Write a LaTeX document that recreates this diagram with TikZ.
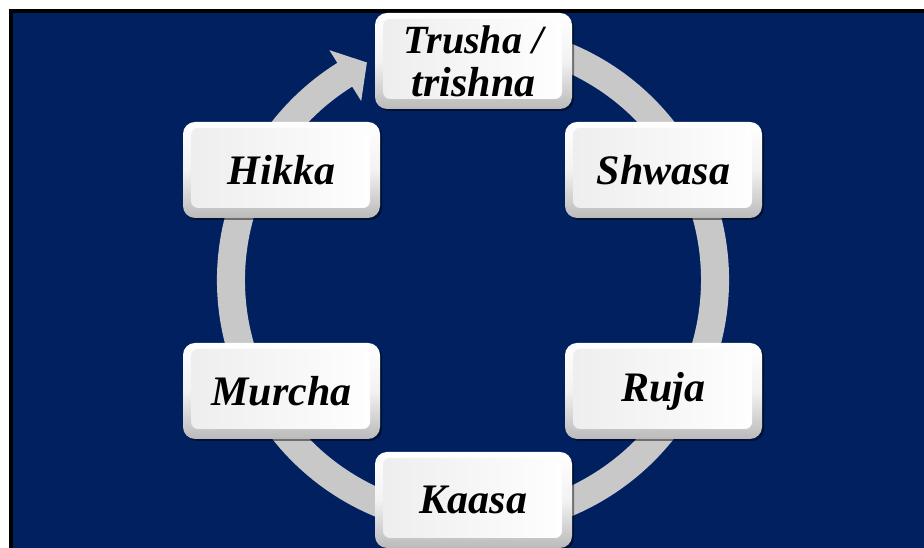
\documentclass[tikz,border=0pt]{standalone}
\usepackage{fontspec}
\setmainfont{Liberation Serif}
\usetikzlibrary{shadows,calc}
\definecolor{navy}{RGB}{0,32,96}
\definecolor{ringgray}{RGB}{200,200,200}
\tikzset{
  bevelbox/.style={rounded corners=12pt, minimum width=197pt, minimum height=96pt,
    inner sep=0pt, align=center, text=black,
    font=\fontsize{42}{43}\selectfont\bfseries\itshape,
    top color=white, bottom color=black!27, middle color=black!5,
    drop shadow={shadow xshift=2pt, shadow yshift=-2pt, opacity=0.45, fill=black},
    path picture={\shade[rounded corners=7pt, left color=black!7, right color=white]
      ($(path picture bounding box.south west)+(8pt,10pt)$) rectangle
      ($(path picture bounding box.north east)+(-10pt,-6pt)$);}},
  ring/.style={fill=ringgray}
}
\begin{document}
\begin{tikzpicture}[x=1pt,y=1pt]
\useasboundingbox (0,0) rectangle (924,548);
\fill[white] (0,0) rectangle (924,548);
\fill[black] (9,0) rectangle (924,539);
\fill[navy] (13,0) rectangle (924,535);
% circular arrow
\coordinate (c) at (473,268);
\fill[ring, shift={(c)}] (75:256) arc[start angle=75, end angle=-238, radius=256]
  -- (122:271) -- (116:242) -- (122:211) -- (122:228)
  arc[start angle=-238, end angle=75, radius=228] -- cycle;
% nodes
\node[bevelbox] (t) at (473.5,487) {\fontsize{40}{43}\selectfont Trusha /\\trishna};
\node[bevelbox] (s) at (663.5,378) {Shwasa};
\node[bevelbox] (r) at (663.5,157) {Ruja};
\node[bevelbox] (k) at (473.5,48) {Kaasa};
\node[bevelbox] (m) at (281.5,157) {Murcha};
\node[bevelbox] (h) at (281.5,378) {Hikka};
\end{tikzpicture}
\end{document}
